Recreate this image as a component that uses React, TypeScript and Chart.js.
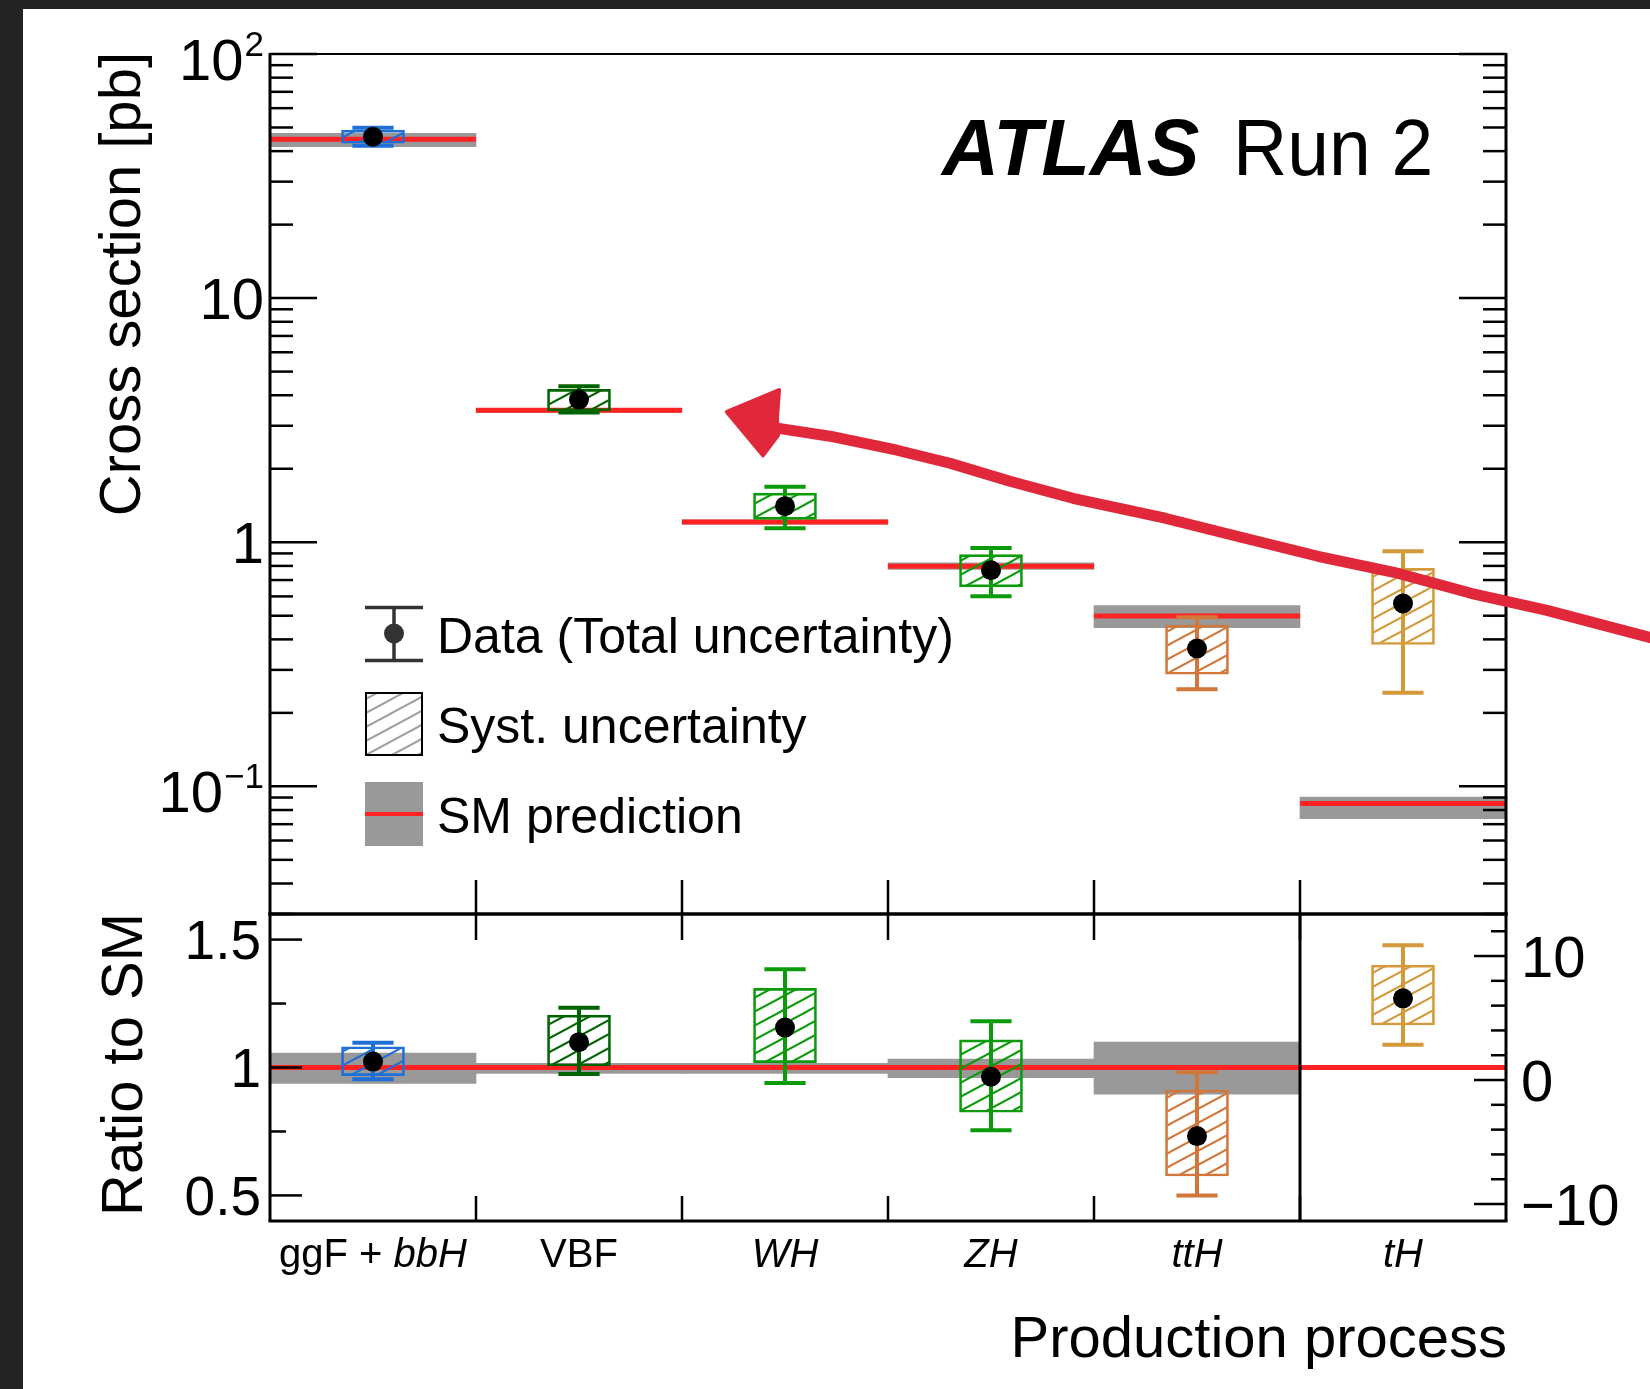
import React, { useEffect, useRef } from 'react';
import { Chart, registerables } from 'chart.js';

Chart.register(...registerables);

const FONT = '"Liberation Sans", Arial, Helvetica, sans-serif';

// ---------------- data ----------------
const categories = ['ggF + bbH', 'VBF', 'WH', 'ZH', 'ttH', 'tH'];

// upper pad: cross sections [pb]
const xsMeasured = [45.8, 3.84, 1.405, 0.768, 0.367, 0.561];
const xsTotalLow = [42.1, 3.40, 1.14, 0.601, 0.250, 0.242];
const xsTotalHigh = [49.9, 4.36, 1.686, 0.948, 0.493, 0.919];
const xsSystLow = [43.1, 3.45, 1.24, 0.656, 0.288, 0.381];
const xsSystHigh = [48.8, 4.23, 1.59, 0.890, 0.458, 0.782];
const xsSM = [44.7, 3.47, 1.21, 0.797, 0.499, 0.085];
const xsSMLow = [41.7, 3.40, 1.185, 0.773, 0.447, 0.0738];
const xsSMHigh = [47.3, 3.54, 1.235, 0.823, 0.550, 0.0903];

// lower pad: ratio to SM (tH is read on the right-hand axis)
const ratioMeasured = [1.023, 1.099, 1.156, 0.964, 0.732, 6.59];
const ratioTotalLow = [0.954, 0.975, 0.939, 0.755, 0.500, 2.85];
const ratioTotalHigh = [1.097, 1.234, 1.384, 1.181, 0.981, 10.86];
const ratioSystLow = [0.968, 1.006, 1.019, 0.825, 0.576, 4.44];
const ratioSystHigh = [1.081, 1.205, 1.309, 1.108, 0.912, 9.27];
const ratioSM = [1, 1, 1, 1, 1, 1];
const ratioSMLow = [0.938, 0.977, 0.977, 0.960, 0.896, null];
const ratioSMHigh = [1.056, 1.016, 1.016, 1.033, 1.099, null];

// tick labels
const xsTickValues = [100, 10, 1, 0.1];
const xsTickLabels = ['10^2', '10', '1', '10^-1'];
const ratioTickValues = [0.5, 1, 1.5];
const ratioTickLabels = ['0.5', '1', '1.5'];
const tHTickValues = [-10, 0, 10];
const tHTickLabels = ['\u221210', '0', '10'];

// hand-drawn annotation arrow, in data coordinates of the upper pad
const arrowShaftX = [1.961, 2.218, 2.544, 2.801, 3.092, 3.398, 3.845, 4.214, 4.587, 4.956, 5.330, 5.699, 6.248];
const arrowShaftY = [2.933, 2.719, 2.382, 2.107, 1.778, 1.514, 1.254, 1.048, 0.876, 0.753, 0.618, 0.526, 0.397];
const arrowHeadX = [1.718, 1.971, 1.961, 1.966, 1.893];
const arrowHeadY = [3.42, 4.20, 3.22, 2.745, 2.27];

// ---------------- styles ----------------
const processColors = ['#1f6fd6', '#006400', '#0a9a0a', '#0a9a0a', '#d2773a', '#d4993a'];
const SM_RED = '#ff2222';
const BAND_GRAY = '#999999';
const ARROW_RED = '#e0283a';
const CAT_W = 206;
const BOX_W = 63;
const CAP = 0.1;

function makeHatch(color: string) {
  const W = 26, H = 14;
  const c = document.createElement('canvas');
  c.width = W; c.height = H;
  const g = c.getContext('2d') as CanvasRenderingContext2D;
  g.strokeStyle = color;
  g.lineWidth = 2;
  for (let k = -1; k <= 1; k++) {
    g.beginPath();
    g.moveTo(-W, 2 * H + k * H);
    g.lineTo(2 * W, -H + k * H);
    g.stroke();
  }
  return g.createPattern(c, 'repeat') as CanvasPattern;
}

function errorBar(i: number, lo: number, hi: number) {
  return [
    { x: i, y: lo }, { x: i, y: hi }, { x: i, y: null },
    { x: i - CAP, y: hi }, { x: i + CAP, y: hi }, { x: i, y: null },
    { x: i - CAP, y: lo }, { x: i + CAP, y: lo },
  ];
}

function line(ctx: CanvasRenderingContext2D, x1: number, y1: number, x2: number, y2: number) {
  ctx.beginPath();
  ctx.moveTo(x1, y1);
  ctx.lineTo(x2, y2);
  ctx.stroke();
}

function drawPowerLabel(ctx: CanvasRenderingContext2D, label: string, rightX: number, tickY: number, size: number) {
  const parts = label.split('^');
  ctx.fillStyle = '#000';
  ctx.textBaseline = 'alphabetic';
  if (parts.length === 1) {
    ctx.font = `${size}px ${FONT}`;
    ctx.textAlign = 'right';
    ctx.fillText(parts[0], rightX, tickY + size * 0.355);
    return;
  }
  const supText = parts[1].replace('-', '\u2212');
  const supSize = Math.round(size * 0.6);
  ctx.font = `${supSize}px ${FONT}`;
  const ws = ctx.measureText(supText).width;
  ctx.textAlign = 'left';
  ctx.fillText(supText, rightX - ws, tickY + 2);
  ctx.font = `${size}px ${FONT}`;
  ctx.textAlign = 'right';
  ctx.fillText(parts[0], rightX - ws - 1, tickY + 26);
}

function labelParts(label: string): [string, boolean][] {
  if (label === 'ggF + bbH') return [['ggF + ', false], ['bbH', true]];
  if (label === 'VBF') return [['VBF', false]];
  return [[label, true]];
}

// ---------------- upper pad ----------------
const upperDecor = {
  id: 'upperDecor',
  afterDatasetsDraw(chart: any) {
    const { ctx, chartArea: a, scales } = chart;
    const x = scales.x, y = scales.y;
    ctx.save();
    ctx.strokeStyle = '#000';
    ctx.lineWidth = 2.5;
    for (let e = -2; e <= 2; e++) {
      for (let m = 1; m <= 9; m++) {
        const v = m * Math.pow(10, e);
        if (v < y.min * 0.999 || v > y.max * 1.001) continue;
        const py = y.getPixelForValue(v);
        const len = m === 1 ? 47 : 23;
        line(ctx, a.left, py, a.left + len, py);
        line(ctx, a.right - len, py, a.right, py);
      }
    }
    for (let i = 0; i < categories.length - 1; i++) {
      const px = x.getPixelForValue(i + 0.5);
      line(ctx, px, a.bottom, px, a.bottom - 34);
    }
    ctx.lineWidth = 3;
    line(ctx, a.left, a.top - 1, a.left, a.bottom);
    line(ctx, a.right, a.top - 1, a.right, a.bottom);
    line(ctx, a.left - 1.5, a.bottom, a.right + 1.5, a.bottom);
    ctx.lineWidth = 2;
    line(ctx, a.left, a.top, a.right, a.top);
    ctx.restore();
  },
  afterDraw(chart: any) {
    const { ctx, chartArea: a, scales } = chart;
    const x = scales.x, y = scales.y;
    ctx.save();
    // tick labels
    xsTickValues.forEach((v, k) => drawPowerLabel(ctx, xsTickLabels[k], a.left - 6, y.getPixelForValue(v), 58));

    // y title
    ctx.save();
    ctx.translate(140, a.top - 2);
    ctx.rotate(-Math.PI / 2);
    ctx.font = `58px ${FONT}`;
    ctx.textAlign = 'right';
    ctx.fillStyle = '#000';
    ctx.fillText('Cross section [pb]', 0, 0);
    ctx.restore();

    // ATLAS label
    ctx.fillStyle = '#000';
    ctx.textAlign = 'left';
    ctx.font = `italic bold 79px ${FONT}`;
    ctx.fillText('ATLAS', 942, 175);
    ctx.save();
    ctx.translate(1233, 175);
    ctx.scale(0.95, 1);
    ctx.font = `79px ${FONT}`;
    ctx.fillText('Run 2', 0, 0);
    ctx.restore();

    // legend
    ctx.strokeStyle = '#333';
    ctx.fillStyle = '#333';
    ctx.lineWidth = 3.5;
    line(ctx, 394, 607.5, 394, 660.5);
    line(ctx, 365, 607.5, 423, 607.5);
    line(ctx, 365, 660.5, 423, 660.5);
    ctx.beginPath();
    ctx.arc(394, 633.5, 10, 0, Math.PI * 2);
    ctx.fill();

    ctx.fillStyle = makeHatch('#a0a0a0');
    ctx.fillRect(365, 692, 58, 64);
    ctx.strokeStyle = '#000';
    ctx.lineWidth = 2;
    ctx.strokeRect(366, 693, 56, 62);

    ctx.fillStyle = BAND_GRAY;
    ctx.fillRect(365, 782, 58, 64);
    ctx.strokeStyle = SM_RED;
    ctx.lineWidth = 4;
    line(ctx, 365, 814, 423, 814);

    ctx.fillStyle = '#000';
    ctx.font = `50px ${FONT}`;
    ctx.textAlign = 'left';
    ctx.fillText('Data (Total uncertainty)', 437, 653);
    ctx.fillText('Syst. uncertainty', 437, 743);
    ctx.fillText('SM prediction', 437, 833);

    // annotation arrow
    const px = (v: number) => x.getPixelForValue(v);
    const py = (v: number) => y.getPixelForValue(v);
    ctx.strokeStyle = ARROW_RED;
    ctx.fillStyle = ARROW_RED;
    ctx.lineCap = 'round';
    ctx.lineJoin = 'round';
    ctx.lineWidth = 11;
    ctx.beginPath();
    arrowShaftX.forEach((v, k) => {
      if (k === 0) ctx.moveTo(px(v), py(arrowShaftY[k]));
      else ctx.lineTo(px(v), py(arrowShaftY[k]));
    });
    ctx.stroke();
    ctx.lineWidth = 4;
    ctx.beginPath();
    arrowHeadX.forEach((v, k) => {
      if (k === 0) ctx.moveTo(px(v), py(arrowHeadY[k]));
      else ctx.lineTo(px(v), py(arrowHeadY[k]));
    });
    ctx.closePath();
    ctx.fill();
    ctx.stroke();
    ctx.restore();
  },
};

function upperConfig(): any {
  const hatch = processColors.map((c) => makeHatch(c));
  const datasets: any[] = [];
  datasets.push({
    type: 'bar', label: 'SM band', order: 10,
    data: categories.map((_, i) => ({ x: i, y: [xsSMLow[i], xsSMHigh[i]] })),
    backgroundColor: BAND_GRAY, borderWidth: 0, barThickness: CAT_W, grouped: false,
  });
  datasets.push({
    type: 'line', label: 'SM', order: 9,
    data: categories.flatMap((_, i) => [{ x: i - 0.5, y: xsSM[i] }, { x: i + 0.5, y: xsSM[i] }, { x: i + 0.5, y: null }]),
    borderColor: SM_RED, borderWidth: 5, pointRadius: 0, spanGaps: false, borderCapStyle: 'butt',
  });
  datasets.push({
    type: 'bar', label: 'Syst', order: 8,
    data: categories.map((_, i) => ({ x: i, y: [xsSystLow[i], xsSystHigh[i]] })),
    backgroundColor: hatch, borderColor: processColors, borderWidth: 2, borderSkipped: false,
    barThickness: BOX_W, grouped: false,
  });
  categories.forEach((_, i) => datasets.push({
    type: 'line', label: 'Total ' + categories[i], order: 7,
    data: errorBar(i, xsTotalLow[i], xsTotalHigh[i]),
    borderColor: processColors[i], borderWidth: 4, pointRadius: 0, spanGaps: false, borderCapStyle: 'butt',
  }));
  datasets.push({
    type: 'line', label: 'Data', order: 1,
    data: categories.map((_, i) => ({ x: i, y: xsMeasured[i] })),
    showLine: false, pointRadius: 10, pointHoverRadius: 10, pointBackgroundColor: '#000', pointBorderWidth: 0,
  });
  return {
    type: 'bar',
    data: { datasets },
    options: {
      animation: false, responsive: false, maintainAspectRatio: false, devicePixelRatio: 1, events: [],
      layout: { padding: { left: 270, right: 144, top: 54, bottom: 16 } },
      plugins: { legend: { display: false }, tooltip: { enabled: false }, title: { display: false } },
      scales: {
        x: { type: 'linear', min: -0.5, max: 5.5, offset: false, display: false },
        y: { type: 'logarithmic', min: 0.03, max: 100, display: false },
      },
    },
    plugins: [upperDecor],
  };
}

// ---------------- lower pad ----------------
const lowerDecor = {
  id: 'lowerDecor',
  afterDatasetsDraw(chart: any) {
    const { ctx, chartArea: a, scales } = chart;
    const x = scales.x, y = scales.y, y2 = scales.y2;
    ctx.save();
    ctx.strokeStyle = '#000';
    ctx.lineWidth = 2.5;
    ratioTickValues.forEach((v) => {
      const py = y.getPixelForValue(v);
      line(ctx, a.left, py, a.left + 32, py);
    });
    for (let v = 0.25; v < y.max; v += 0.25) {
      if (v < y.min || ratioTickValues.some((t) => Math.abs(t - v) < 1e-6)) continue;
      const py = y.getPixelForValue(v);
      line(ctx, a.left, py, a.left + 16, py);
    }
    tHTickValues.forEach((v) => {
      const py = y2.getPixelForValue(v);
      line(ctx, a.right - 32, py, a.right, py);
    });
    for (let v = -20; v <= 20; v += 2) {
      if (v < y2.min || v > y2.max || tHTickValues.includes(v)) continue;
      const py = y2.getPixelForValue(v);
      line(ctx, a.right - 15, py, a.right, py);
    }
    for (let i = 0; i < categories.length - 1; i++) {
      const px = x.getPixelForValue(i + 0.5);
      line(ctx, px, a.top, px, a.top + 26);
      line(ctx, px, a.bottom, px, a.bottom - 25);
    }
    ctx.lineWidth = 3;
    const sep = x.getPixelForValue(4.5);
    line(ctx, sep, a.top, sep, a.bottom);
    line(ctx, a.left, a.top, a.left, a.bottom);
    line(ctx, a.right, a.top, a.right, a.bottom);
    line(ctx, a.left - 1.5, a.top, a.right + 1.5, a.top);
    line(ctx, a.left - 1.5, a.bottom, a.right + 1.5, a.bottom);
    ctx.restore();
  },
  afterDraw(chart: any) {
    const { ctx, chartArea: a, scales } = chart;
    const x = scales.x, y = scales.y, y2 = scales.y2;
    ctx.save();
    ctx.fillStyle = '#000';
    ctx.textBaseline = 'alphabetic';
    ctx.font = `55px ${FONT}`;
    ctx.textAlign = 'right';
    ratioTickValues.forEach((v, k) => ctx.fillText(ratioTickLabels[k], a.left - 9, y.getPixelForValue(v) + 19.6));
    ctx.font = `58px ${FONT}`;
    ctx.textAlign = 'left';
    tHTickValues.forEach((v, k) => ctx.fillText(tHTickLabels[k], a.right + 15, y2.getPixelForValue(v) + 20.6));

    // category labels
    ctx.font = `40px ${FONT}`;
    categories.forEach((c, i) => {
      const parts = labelParts(c);
      let total = 0;
      parts.forEach(([t, it]) => {
        ctx.font = `${it ? 'italic ' : ''}40px ${FONT}`;
        total += ctx.measureText(t).width;
      });
      let cx = x.getPixelForValue(i) - total / 2;
      ctx.textAlign = 'left';
      parts.forEach(([t, it]) => {
        ctx.font = `${it ? 'italic ' : ''}40px ${FONT}`;
        ctx.fillText(t, cx, a.bottom + 46);
        cx += ctx.measureText(t).width;
      });
    });

    // axis titles
    ctx.font = `58px ${FONT}`;
    ctx.textAlign = 'right';
    ctx.fillText('Production process', a.right + 1, a.bottom + 136);
    ctx.save();
    ctx.translate(142, a.top - 1);
    ctx.rotate(-Math.PI / 2);
    ctx.textAlign = 'right';
    ctx.fillText('Ratio to SM', 0, 0);
    ctx.restore();
    ctx.restore();
  },
};

function lowerConfig(): any {
  const hatch = processColors.map((c) => makeHatch(c));
  const axisOf = (i: number) => (categories[i] === 'tH' ? 'y2' : 'y');
  const idx = categories.map((_, i) => i);
  const left = idx.filter((i) => axisOf(i) === 'y');
  const right = idx.filter((i) => axisOf(i) === 'y2');
  const datasets: any[] = [];
  datasets.push({
    type: 'bar', label: 'SM band', order: 10, yAxisID: 'y',
    data: left.filter((i) => ratioSMLow[i] !== null).map((i) => ({ x: i, y: [ratioSMLow[i], ratioSMHigh[i]] })),
    backgroundColor: BAND_GRAY, borderWidth: 0, barThickness: CAT_W, grouped: false,
  });
  [['y', left], ['y2', right]].forEach(([axis, list]: any) => {
    datasets.push({
      type: 'line', label: 'SM', order: 9, yAxisID: axis,
      data: list.flatMap((i: number) => [{ x: i - 0.5, y: ratioSM[i] }, { x: i + 0.5, y: ratioSM[i] }, { x: i + 0.5, y: null }]),
      borderColor: SM_RED, borderWidth: 5, pointRadius: 0, spanGaps: false, borderCapStyle: 'butt',
    });
    datasets.push({
      type: 'bar', label: 'Syst', order: 8, yAxisID: axis,
      data: list.map((i: number) => ({ x: i, y: [ratioSystLow[i], ratioSystHigh[i]] })),
      backgroundColor: list.map((i: number) => hatch[i]), borderColor: list.map((i: number) => processColors[i]),
      borderWidth: 2, borderSkipped: false, barThickness: BOX_W, grouped: false,
    });
    datasets.push({
      type: 'line', label: 'Data', order: 1, yAxisID: axis,
      data: list.map((i: number) => ({ x: i, y: ratioMeasured[i] })),
      showLine: false, pointRadius: 10, pointHoverRadius: 10, pointBackgroundColor: '#000', pointBorderWidth: 0,
    });
  });
  idx.forEach((i) => datasets.push({
    type: 'line', label: 'Total ' + categories[i], order: 7, yAxisID: axisOf(i),
    data: errorBar(i, ratioTotalLow[i], ratioTotalHigh[i]),
    borderColor: processColors[i], borderWidth: 4, pointRadius: 0, spanGaps: false, borderCapStyle: 'butt',
  }));
  return {
    type: 'bar',
    data: { datasets },
    options: {
      animation: false, responsive: false, maintainAspectRatio: false, devicePixelRatio: 1, events: [],
      layout: { padding: { left: 270, right: 144, top: 14, bottom: 168 } },
      plugins: { legend: { display: false }, tooltip: { enabled: false }, title: { display: false } },
      scales: {
        x: { type: 'linear', min: -0.5, max: 5.5, offset: false, display: false },
        y: { type: 'linear', min: 0.4, max: 1.6, display: false, position: 'left' },
        y2: { type: 'linear', min: -11.37, max: 13.39, display: false, position: 'right' },
      },
    },
    plugins: [lowerDecor],
  };
}

export default function App() {
  const upperRef = useRef<HTMLCanvasElement>(null);
  const lowerRef = useRef<HTMLCanvasElement>(null);
  useEffect(() => {
    const up = new Chart(upperRef.current as HTMLCanvasElement, upperConfig());
    const lo = new Chart(lowerRef.current as HTMLCanvasElement, lowerConfig());
    return () => {
      up.destroy();
      lo.destroy();
    };
  }, []);
  return (
    <div style={{ position: 'absolute', left: 0, top: 0, width: 1650, height: 1389, background: '#ffffff', overflow: 'hidden' }}>
      <div style={{ position: 'absolute', left: 0, top: 0, width: 1650, height: 9, background: '#232323' }} />
      <div style={{ position: 'absolute', left: 0, top: 0, width: 23, height: 1389, background: '#232323' }} />
      <canvas ref={upperRef} width={1650} height={930} style={{ position: 'absolute', left: 0, top: 0 }} />
      <canvas ref={lowerRef} width={1650} height={489} style={{ position: 'absolute', left: 0, top: 900 }} />
    </div>
  );
}
